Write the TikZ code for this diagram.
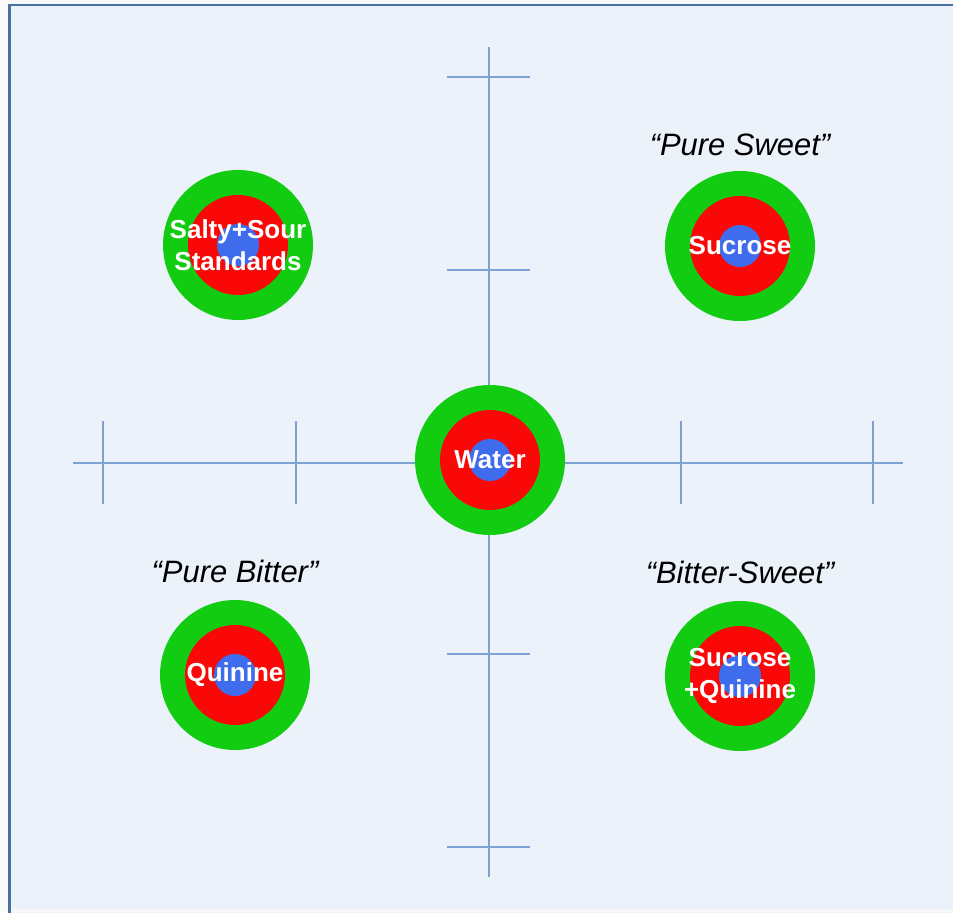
\documentclass[tikz,border=0pt]{standalone}
\usepackage{fontspec}
\setmainfont{Liberation Sans}
\usetikzlibrary{positioning}
\definecolor{bgc}{RGB}{235,242,250}
\definecolor{frm}{RGB}{72,112,160}
\definecolor{axc}{RGB}{125,163,210}
\definecolor{tg}{RGB}{18,204,18}
\definecolor{tr}{RGB}{250,8,8}
\definecolor{tb}{RGB}{62,108,236}

\begin{document}
\begin{tikzpicture}[
    axis/.style={draw=axc,line width=0.45pt},
    tgt/.style={circle,fill=tg,minimum size=1.5cm,inner sep=0pt,outer sep=0pt,
        align=center,text=white,font=\fontsize{7.4}{9.2}\selectfont\bfseries,
        path picture={\fill[tr] (path picture bounding box.center) circle (0.5);
                      \fill[tb] (path picture bounding box.center) circle (0.21);}},
    tag/.style={font=\fontsize{8.8}{10}\selectfont\itshape},
]
\clip (0,0) rectangle (9.53,9.12);
% Background and frame
\fill[white!95!gray] (0,0) rectangle (9.53,9.12);
\draw[frm,fill=bgc,line width=0.6pt] (0.095,-0.3) rectangle (9.9,9.07);
\fill[white!94!gray] (0.11,0) rectangle (9.53,0.03);

% Axes
\draw[axis] (4.89,8.65) -- (4.89,0.35);
\draw[axis] (0.73,4.49) -- (9.03,4.49);

% Ticks on vertical axis
\draw[axis] (4.47,8.35) -- (5.30,8.35);
\draw[axis] (4.47,6.42) -- (5.30,6.42);
\draw[axis] (4.47,2.58) -- (5.30,2.58);
\draw[axis] (4.47,0.65) -- (5.30,0.65);

% Ticks on horizontal axis
\draw[axis] (1.03,4.91) -- (1.03,4.08);
\draw[axis] (2.96,4.91) -- (2.96,4.08);
\draw[axis] (6.81,4.91) -- (6.81,4.08);
\draw[axis] (8.73,4.91) -- (8.73,4.08);

% Targets
\node[tgt] (salt) at (2.38,6.67) {Salty+Sour\\Standards};
\node[tgt] (sweet) at (7.40,6.66) {Sucrose};
\node[tgt] (water) at (4.90,4.52) {Water};
\node[tgt] (bitter) at (2.35,2.37) {Quinine};
\node[tgt] (bsweet) at (7.40,2.36) {Sucrose\\+Quinine};

% Labels
\node[tag,above=0.03cm of sweet] (tsweet) {“Pure Sweet”};
\node[tag,above=0.05cm of bitter] (tbitter) {“Pure Bitter”};
\node[tag,above=0.05cm of bsweet] (tbsweet) {“Bitter-Sweet”};
\end{tikzpicture}
\end{document}
